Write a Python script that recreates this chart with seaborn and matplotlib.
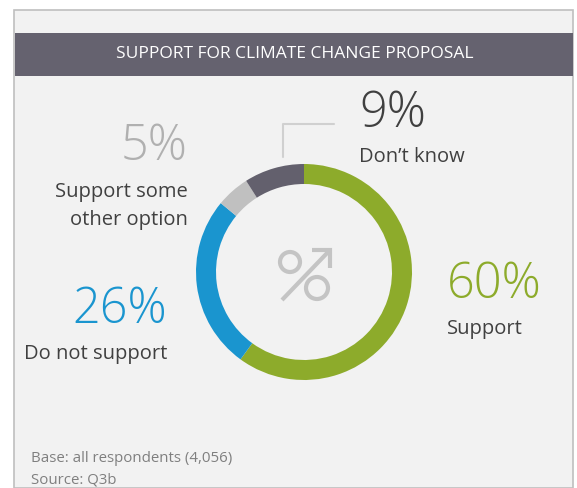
import numpy as np
import pandas as pd
import seaborn as sns
import matplotlib.pyplot as plt
from matplotlib.patches import Rectangle, Circle

# data
labels = ['Support', 'Do not support', 'Support some\nother option', "Don\u2019t know"]
values = [60, 26, 5, 9]
colors = ['#8dab2b', '#1a95cf', '#c0c0c0', '#63606d']
pct_colors = ['#8dab2b', '#1a95cf', '#b0b0b0', '#404040']
title = 'SUPPORT FOR CLIMATE CHANGE PROPOSAL'
footer = ['Base: all respondents (4,056)', 'Source: Q3b']

df = pd.DataFrame({'label': labels, 'value': values})

sns.set_theme(style='white')
plt.rcParams['font.family'] = ['Open Sans', 'DejaVu Sans']

W, H = 577, 488
fig = plt.figure(figsize=(W / 100, H / 100), dpi=100)
ax = fig.add_axes([0, 0, 1, 1])


def Y(y):
    # pixel row (from top) -> data y
    return H - y


# panel background, border and header bar
ax.add_patch(Rectangle((14, 0), 559, Y(10), facecolor='#f2f2f2', edgecolor='#bfbfbf', lw=1.2, zorder=0))
ax.add_patch(Rectangle((15, Y(76)), 558, 43, facecolor='#65626f', edgecolor='none', zorder=1))
ax.text(295, Y(54), title, color='white', fontsize=12.5, ha='center', va='center', zorder=2)

# donut
cx, cy, r = 304, Y(272), 108
ax.pie(df['value'], colors=colors, startangle=90, counterclock=False, radius=r,
       center=(cx, cy), wedgeprops=dict(width=20, linewidth=0), frame=True)

# centre icon
icon = '#c4c4c4'
ax.add_patch(Circle((290, Y(262)), 10, fill=False, ec=icon, lw=3))
ax.add_patch(Circle((317, Y(288)), 11, fill=False, ec=icon, lw=3))
ax.plot([282, 330], [Y(300), Y(250)], color=icon, lw=3, solid_capstyle='butt')
ax.plot([312, 330, 330], [Y(250), Y(250), Y(268)], color=icon, lw=3,
        solid_joinstyle='miter', solid_capstyle='butt')

# labels
txt = '#404040'
big = 35
small = 14.5
pos = [(447, 298, 334, 'left'), (167, 323, 359, 'right'),
       (188, 160, 197, 'right'), (359, 127, 162, 'left')]
for i, (x, yb, yl, ha) in enumerate(pos):
    ax.text(x, Y(yb), f"{df['value'][i]}%", color=pct_colors[i], fontsize=big,
            fontweight='light', ha=ha, va='baseline')
    lab = df['label'][i]
    if '\n' in lab:
        a, b = lab.split('\n')
        ax.text(x, Y(yl), a, color=txt, fontsize=small, ha=ha, va='baseline')
        ax.text(x, Y(yl + 28), b, color=txt, fontsize=small, ha=ha, va='baseline')
    else:
        ax.text(x, Y(yl), lab, color=txt, fontsize=small, ha=ha, va='baseline')

# leader line for "Don't know"
ax.plot([283, 283, 334], [Y(157), Y(124), Y(124)], color='#d0d0d0', lw=1.5)

# footer
ax.text(31, Y(462), footer[0], color='#7f7f7f', fontsize=10.8, ha='left', va='baseline')
ax.text(31, Y(484), footer[1], color='#7f7f7f', fontsize=10.8, ha='left', va='baseline')

ax.set_xlim(0, W)
ax.set_ylim(0, H)
ax.set_aspect('equal')
ax.axis('off')
fig.savefig('out.png', dpi=100, facecolor='white')
